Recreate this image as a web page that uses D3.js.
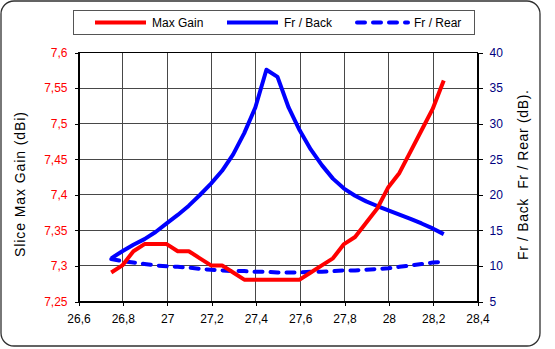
<!DOCTYPE html>
<html>
<head>
<meta charset="utf-8">
<script src="https://cdn.jsdelivr.net/npm/d3@7/dist/d3.min.js"></script>
<style>
  html, body { margin: 0; padding: 0; background: #fff; }
  svg { display: block; font-family: "Liberation Sans", Arial, sans-serif; }
</style>
</head>
<body>
<svg id="chart" width="555" height="349"></svg>
<script>
// Frequency sweep (GHz) shared by all three series
const freq = [26.75, 26.8, 26.85, 26.9, 26.95, 27.0, 27.05, 27.1, 27.15, 27.2, 27.25,
  27.3, 27.35, 27.4, 27.45, 27.5, 27.55, 27.6, 27.65, 27.7, 27.75, 27.8, 27.85,
  27.9, 27.95, 28.0, 28.05, 28.1, 28.15, 28.2, 28.25];

// Slice max gain (dBi), left axis
const maxGain = [7.29, 7.30, 7.32, 7.33, 7.33, 7.33, 7.32, 7.32, 7.31, 7.30, 7.30,
  7.29, 7.28, 7.28, 7.28, 7.28, 7.28, 7.28, 7.29, 7.30, 7.31, 7.33, 7.34,
  7.36, 7.38, 7.41, 7.43, 7.46, 7.49, 7.52, 7.56];

// Front-to-back ratio (dB), right axis
const frBack = [11.0, 12.0, 12.9, 13.7, 14.7, 15.9, 17.1, 18.4, 19.9, 21.5, 23.3,
  25.6, 28.6, 32.2, 37.5, 36.5, 32.2, 29.0, 26.3, 24.1, 22.2, 20.8, 19.8,
  19.0, 18.35, 17.75, 17.15, 16.55, 15.9, 15.2, 14.4];

// Front-to-rear ratio (dB), right axis
const frRear = [10.9, 10.6, 10.4, 10.2, 10.0, 9.9, 9.8, 9.7, 9.5, 9.4, 9.3,
  9.2, 9.2, 9.1, 9.1, 9.0, 9.0, 9.0, 9.1, 9.1, 9.2, 9.3, 9.3,
  9.4, 9.5, 9.6, 9.8, 10.0, 10.2, 10.4, 10.5];

// Axis ticks
const xTicks = [26.6, 26.8, 27.0, 27.2, 27.4, 27.6, 27.8, 28.0, 28.2, 28.4];
const yLeftTicks = [7.25, 7.3, 7.35, 7.4, 7.45, 7.5, 7.55, 7.6];
const yRightTicks = [5, 10, 15, 20, 25, 30, 35, 40];

// Legend entries
const legendLabels = ["Max Gain", "Fr / Back", "Fr / Rear"];

const svg = d3.select("#chart");
const plot = { left: 78, right: 477, top: 52, bottom: 301 };

// Decimal comma formatting
const loc = d3.formatLocale({ decimal: ",", thousands: ".", grouping: [3], currency: ["", ""] });
const fmt = loc.format("~g");

const x = d3.scaleLinear().domain([26.6, 28.4]).range([plot.left, plot.right]);
const yL = d3.scaleLinear().domain([7.25, 7.6]).range([plot.bottom, plot.top]);
const yR = d3.scaleLinear().domain([5, 40]).range([plot.bottom, plot.top]);

// Outer rounded frame
svg.append("rect")
  .attr("x", 1).attr("y", 1).attr("width", 539).attr("height", 345)
  .attr("rx", 13).attr("ry", 13)
  .attr("fill", "#fff").attr("stroke", "#303030").attr("stroke-width", 1.3);

// Grid
const grid = svg.append("g").attr("stroke", "#474747").attr("stroke-width", 1).attr("shape-rendering", "crispEdges");
grid.selectAll("line.v").data(xTicks.slice(1, -1)).join("line")
  .attr("x1", d => Math.round(x(d)) + 0.5).attr("x2", d => Math.round(x(d)) + 0.5)
  .attr("y1", plot.top).attr("y2", plot.bottom);
grid.selectAll("line.h").data(yLeftTicks.slice(1, -1)).join("line")
  .attr("x1", plot.left).attr("x2", plot.right)
  .attr("y1", d => Math.round(yL(d)) + 0.5).attr("y2", d => Math.round(yL(d)) + 0.5);

// Plot border
svg.append("rect")
  .attr("x", plot.left + 0.5).attr("y", plot.top + 0.5)
  .attr("width", plot.right - plot.left).attr("height", plot.bottom - plot.top)
  .attr("fill", "none").attr("stroke", "#000").attr("stroke-width", 1)
  .attr("shape-rendering", "crispEdges");

// Axes
function styleAxis(g, color) {
  g.select(".domain").attr("stroke", "#000").attr("shape-rendering", "crispEdges");
  g.selectAll(".tick line").attr("stroke", "#000").attr("shape-rendering", "crispEdges");
  g.selectAll(".tick text").attr("fill", color).attr("font-size", 12)
    .attr("font-family", "'Liberation Sans', Arial, sans-serif");
}

svg.append("g")
  .attr("transform", `translate(0.5,${plot.bottom + 0.5})`)
  .call(d3.axisBottom(x).tickValues(xTicks).tickFormat(fmt).tickSize(4).tickSizeOuter(0).tickPadding(9))
  .call(g => styleAxis(g, "#000"));

svg.append("g")
  .attr("transform", `translate(${plot.left + 0.5},0.5)`)
  .call(d3.axisLeft(yL).tickValues(yLeftTicks).tickFormat(fmt).tickSize(4).tickSizeOuter(0).tickPadding(7))
  .call(g => styleAxis(g, "#ff0000"));

svg.append("g")
  .attr("transform", `translate(${plot.right + 0.5},0.5)`)
  .call(d3.axisRight(yR).tickValues(yRightTicks).tickFormat(fmt).tickSize(5).tickSizeOuter(0).tickPadding(7))
  .call(g => styleAxis(g, "#000080"));

// Axis titles
svg.append("text")
  .attr("transform", `translate(25,184.5) rotate(-90)`)
  .attr("text-anchor", "middle")
  .attr("font-size", 14)
  .attr("textLength", 145).attr("lengthAdjust", "spacing")
  .attr("fill", "#000")
  .text("Slice Max Gain (dBi)");

svg.append("text")
  .attr("transform", `translate(528,175) rotate(-90)`)
  .attr("text-anchor", "middle")
  .attr("font-size", 14)
  .attr("textLength", 170).attr("lengthAdjust", "spacing")
  .attr("fill", "#000")
  .style("white-space", "pre")
  .text("Fr / Back  Fr / Rear (dB).");

// Series
const series = [
  { name: legendLabels[0], values: maxGain, y: yL, color: "#ff0000", dash: null },
  { name: legendLabels[1], values: frBack, y: yR, color: "#0000ff", dash: null },
  { name: legendLabels[2], values: frRear, y: yR, color: "#0000ff", dash: "8,8" }
];

// Draw back-to-front so the gain curve sits on top
[series[2], series[1], series[0]].forEach(s => {
  const line = d3.line().x((d, i) => x(freq[i])).y(d => s.y(d));
  svg.append("path")
    .datum(s.values)
    .attr("d", line)
    .attr("fill", "none")
    .attr("stroke", s.color)
    .attr("stroke-width", 4)
    .attr("stroke-linejoin", "round")
    .attr("stroke-linecap", s.dash ? "round" : "butt")
    .attr("stroke-dasharray", s.dash);
});

// Legend
const lg = svg.append("g");
lg.append("rect")
  .attr("x", 73.5).attr("y", 10.5).attr("width", 401).attr("height", 24)
  .attr("fill", "#fff").attr("stroke", "#555").attr("stroke-width", 1);

const legendX = [95, 227, 357];
series.forEach((s, i) => {
  const lx = legendX[i];
  lg.append("line")
    .attr("x1", lx).attr("x2", lx + 51).attr("y1", 22.5).attr("y2", 22.5)
    .attr("stroke", s.color).attr("stroke-width", 4)
    .attr("stroke-linecap", s.dash ? "round" : "butt")
    .attr("stroke-dasharray", s.dash);
  lg.append("text")
    .attr("x", lx + 57).attr("y", 27)
    .attr("font-size", 12).attr("fill", "#000")
    .text(s.name);
});
</script>
</body>
</html>
